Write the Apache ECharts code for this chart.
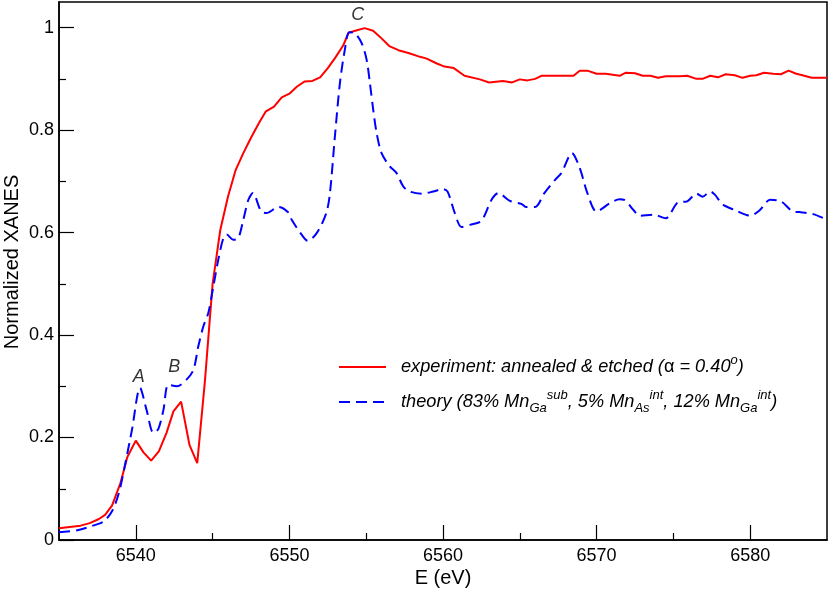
<!DOCTYPE html>
<html><head><meta charset="utf-8">
<script src="https://cdn.jsdelivr.net/npm/echarts@6/dist/echarts.min.js"></script>
<style>html,body{margin:0;padding:0;background:#fff}#c{width:830px;height:592px}</style>
</head><body><div id="c"></div>
<script>
// Experiment (red, solid)
const expE = [6535.0,6536.4,6537.0,6537.6,6538.0,6538.45,6539.0,6539.45,6540.0,6540.5,6541.0,6541.5,6542.0,6542.45,6542.95,6543.5,6544.0,6544.5,6545.0,6545.5,6546.0,6546.5,6547.0,6547.5,6548.0,6548.45,6549.0,6549.5,6550.0,6550.5,6551.0,6551.5,6552.0,6552.5,6553.0,6553.5,6553.85,6554.4,6554.9,6555.45,6556.0,6556.5,6557.1,6557.8,6558.5,6558.9,6559.6,6560.1,6560.7,6561.4,6562.4,6563.0,6563.9,6564.5,6565.0,6565.5,6566.0,6566.4,6567.4,6568.5,6568.9,6569.4,6570.0,6570.6,6571.5,6571.9,6572.5,6573.0,6573.5,6574.0,6574.5,6575.4,6575.9,6576.5,6576.9,6577.4,6577.9,6578.4,6579.0,6579.5,6580.0,6580.4,6580.9,6581.5,6582.0,6582.5,6583.0,6583.4,6584.0,6585.0];
const expY = [0.023,0.028,0.033,0.041,0.049,0.067,0.111,0.162,0.194,0.171,0.155,0.173,0.209,0.251,0.270,0.185,0.150,0.310,0.500,0.605,0.670,0.722,0.755,0.785,0.813,0.836,0.846,0.864,0.871,0.885,0.895,0.896,0.903,0.921,0.942,0.965,0.990,0.995,0.999,0.994,0.979,0.964,0.956,0.950,0.943,0.940,0.930,0.924,0.921,0.906,0.899,0.893,0.896,0.893,0.899,0.897,0.900,0.906,0.906,0.906,0.916,0.916,0.910,0.910,0.906,0.912,0.911,0.906,0.906,0.902,0.905,0.905,0.906,0.900,0.900,0.906,0.903,0.909,0.907,0.902,0.906,0.907,0.912,0.910,0.909,0.916,0.910,0.907,0.902,0.902];
// Theory (blue, dashed)
const thE = [6535.0,6536.2,6537.2,6537.9,6538.45,6538.9,6539.3,6539.75,6540.28,6540.7,6541.15,6541.47,6541.8,6542.12,6542.67,6543.3,6543.75,6544.07,6544.4,6544.72,6545.05,6545.37,6545.7,6545.92,6546.35,6546.67,6547.0,6547.33,6547.62,6548.15,6548.5,6549.3,6549.9,6550.15,6550.7,6551.2,6551.8,6552.4,6552.64,6552.96,6553.29,6553.61,6553.9,6554.27,6554.7,6555.03,6555.24,6555.46,6555.68,6556.0,6556.54,6556.98,6557.41,6557.84,6558.6,6559.36,6560.0,6560.3,6560.77,6561.2,6561.75,6562.5,6563.16,6563.6,6564.35,6565.1,6565.4,6566.0,6566.6,6567.3,6567.7,6568.4,6568.9,6569.4,6570.0,6570.85,6571.5,6571.8,6572.4,6572.8,6573.7,6574.5,6575.3,6575.9,6576.5,6576.9,6577.4,6577.7,6578.2,6579.0,6580.0,6580.6,6581.3,6582.0,6582.8,6583.2,6584.1,6585.0];
const thY = [0.015,0.019,0.028,0.036,0.056,0.092,0.147,0.215,0.297,0.254,0.209,0.217,0.254,0.303,0.300,0.313,0.332,0.378,0.417,0.443,0.495,0.547,0.589,0.596,0.586,0.589,0.625,0.664,0.677,0.642,0.638,0.650,0.640,0.625,0.600,0.584,0.600,0.638,0.677,0.787,0.892,0.957,0.991,0.989,0.970,0.937,0.892,0.839,0.794,0.755,0.729,0.716,0.690,0.680,0.676,0.680,0.685,0.680,0.638,0.611,0.615,0.623,0.664,0.677,0.662,0.656,0.650,0.650,0.677,0.703,0.716,0.755,0.726,0.677,0.641,0.657,0.665,0.664,0.644,0.633,0.635,0.628,0.659,0.661,0.676,0.670,0.680,0.674,0.655,0.644,0.633,0.643,0.664,0.661,0.641,0.640,0.636,0.625];
// Tick positions (every 5 eV / every 0.05), majors get labels
const xTicks = ['6535','6540','6545','6550','6555','6560','6565','6570','6575','6580','6585'];
const yTicks = ['0','0.05','0.1','0.15','0.2','0.25','0.3','0.35','0.4','0.45','0.5','0.55','0.6','0.65','0.7','0.75','0.8','0.85','0.9','0.95','1','1.05'];
// Peak annotations
const peakNames = ['A','B','C'];
const peakE = [6540.2,6542.5,6554.45];
const peakY = [0.319,0.338,1.025];

const FONT = '"Liberation Sans", Arial, Helvetica, sans-serif';
const pair = (xs, ys) => xs.map((x, i) => [x, ys[i]]);
const xLast = xTicks.length - 1;
const xMajorFn = (i, v) => i > 0 && i < xLast && Number(v) % 10 === 0;
const xMinorFn = (i, v) => i > 0 && i < xLast && Number(v) % 10 === 5;
const yMajorFn = (i) => i % 4 === 0 && i <= 20;
const yMinorFn = (i) => i % 4 === 2;

const chart = echarts.init(document.getElementById('c'), null, {renderer: 'canvas'});
const rich = {
  n: {fontSize: 18.2, fontStyle: 'italic', fontFamily: FONT, color: '#000', lineHeight: 26},
  g: {fontSize: 18.2, fontStyle: 'normal', fontFamily: FONT, color: '#000', lineHeight: 26},
  sub: {fontSize: 13, fontStyle: 'italic', fontFamily: FONT, color: '#000', lineHeight: 12, verticalAlign: 'bottom'},
  sup: {fontSize: 13, fontStyle: 'italic', fontFamily: FONT, color: '#000', lineHeight: 12, verticalAlign: 'top'}
};
const labels = {
  experiment: '{n|experiment: annealed & etched (}{g|α}{n| = 0.40}{sup|o}{n|)}',
  theory: '{n|theory (83% Mn}{sub|Ga}{sup|sub}{n|, 5% Mn}{sub|As}{sup|int}{n|, 12% Mn}{sub|Ga}{sup|int}{n|)}'
};
const tickStyle = {color: '#000', width: 1.2};

chart.setOption({
  animation: false,
  backgroundColor: '#fff',
  grid: {left: 59, right: 3, top: 2, bottom: 52, show: true, borderColor: '#000', borderWidth: 1.5,
         backgroundColor: 'transparent', outerBoundsMode: 'none', containLabel: false},
  legend: {
    data: ['experiment', 'theory'],
    orient: 'vertical', left: 333, top: 349,
    itemWidth: 47, itemHeight: 14, itemGap: 13,
    formatter: name => labels[name],
    itemStyle: {color: 'rgba(0,0,0,0)', borderColor: 'rgba(0,0,0,0)', borderWidth: 0},
    textStyle: {rich: rich, padding: [0, 0, 0, 10]},
    selectedMode: false
  },
  xAxis: [{
    type: 'value', min: 6535, max: 6585, position: 'bottom',
    name: 'E (eV)', nameLocation: 'middle', nameGap: 28,
    nameTextStyle: {fontSize: 20, fontFamily: FONT, color: '#000'},
    axisLine: {show: true, lineStyle: {color: '#000', width: 1.5}},
    axisTick: {show: false}, axisLabel: {show: false}, splitLine: {show: false}
  }, {
    type: 'category', data: xTicks, boundaryGap: false, position: 'bottom',
    axisLine: {show: false},
    axisTick: {show: true, inside: true, length: 15, interval: xMajorFn, lineStyle: tickStyle},
    axisLabel: {show: true, interval: xMajorFn, fontSize: 18, fontFamily: FONT, color: '#000', margin: 7},
    splitLine: {show: false}
  }, {
    type: 'category', data: xTicks, boundaryGap: false, position: 'bottom',
    axisLine: {show: false},
    axisTick: {show: true, inside: true, length: 7, interval: xMinorFn, lineStyle: tickStyle},
    axisLabel: {show: false}, splitLine: {show: false}
  }],
  yAxis: [{
    type: 'value', min: 0, max: 1.05, position: 'left',
    name: 'Normalized XANES', nameLocation: 'middle', nameGap: 37,
    nameTextStyle: {fontSize: 20, fontFamily: FONT, color: '#000', padding: [0, 0, 0, 18]},
    axisLine: {show: true, lineStyle: {color: '#000', width: 1.5}},
    axisTick: {show: false}, axisLabel: {show: false}, splitLine: {show: false}
  }, {
    type: 'category', data: yTicks, boundaryGap: false, position: 'left',
    axisLine: {show: false},
    axisTick: {show: true, inside: true, length: 15, interval: yMajorFn, lineStyle: tickStyle},
    axisLabel: {show: true, interval: yMajorFn, fontSize: 18, fontFamily: FONT, color: '#000', margin: 5},
    splitLine: {show: false}
  }, {
    type: 'category', data: yTicks, boundaryGap: false, position: 'left',
    axisLine: {show: false},
    axisTick: {show: true, inside: true, length: 7, interval: yMinorFn, lineStyle: tickStyle},
    axisLabel: {show: false}, splitLine: {show: false}
  }],
  series: [{
    name: 'experiment', type: 'line', data: pair(expE, expY), xAxisIndex: 0, yAxisIndex: 0,
    showSymbol: false, symbol: 'none',
    lineStyle: {color: '#ff0000', width: 2}, itemStyle: {color: '#ff0000'}
  }, {
    name: 'theory', type: 'line', data: pair(thE, thY), xAxisIndex: 0, yAxisIndex: 0,
    showSymbol: false, symbol: 'none', smooth: 0.3,
    lineStyle: {color: '#0000ff', width: 2, type: [11, 6]}, itemStyle: {color: '#0000ff'}
  }, {
    name: 'peaks', type: 'scatter', symbolSize: 0, xAxisIndex: 0, yAxisIndex: 0,
    data: peakNames.map((n, i) => ({name: n, value: [peakE[i], peakY[i]]})),
    label: {show: true, position: 'inside', formatter: p => p.name, fontSize: 18, fontStyle: 'italic', fontFamily: FONT, color: '#000'},
    silent: true
  }]
});
</script></body></html>
